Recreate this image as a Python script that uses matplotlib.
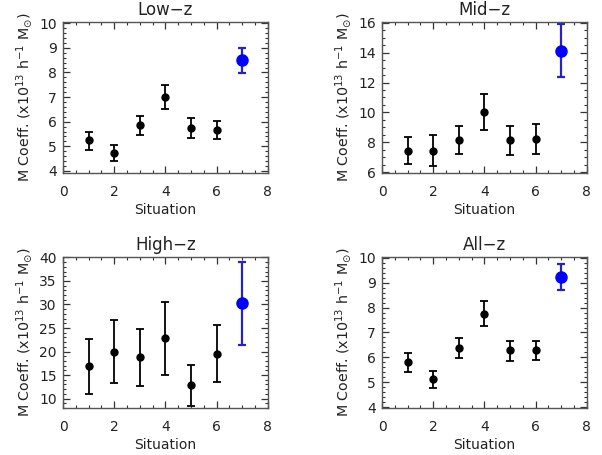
import matplotlib
matplotlib.use('Agg')
import matplotlib.pyplot as plt
from matplotlib.ticker import MultipleLocator

# situation index for each point (7 = the blue one)
situation = [1, 2, 3, 4, 5, 6, 7]

low_val = [5.24, 4.71, 5.86, 7.01, 5.74, 5.66, 8.49]
low_hi = [5.60, 5.04, 6.25, 7.51, 6.14, 6.04, 8.99]
low_lo = [4.84, 4.39, 5.46, 6.53, 5.33, 5.28, 7.96]

mid_val = [7.44, 7.44, 8.18, 10.0, 8.13, 8.22, 14.13]
mid_hi = [8.38, 8.51, 9.11, 11.24, 9.11, 9.20, 15.93]
mid_lo = [6.53, 6.42, 7.20, 8.80, 7.13, 7.24, 12.36]

high_val = [16.88, 20.0, 18.79, 22.84, 12.84, 19.57, 30.28]
high_hi = [22.7, 26.67, 24.89, 30.57, 17.23, 25.67, 39.0]
high_lo = [11.06, 13.33, 12.7, 15.04, 8.43, 13.48, 21.49]

all_val = [5.81, 5.12, 6.39, 7.75, 6.28, 6.29, 9.22]
all_hi = [6.17, 5.45, 6.79, 8.25, 6.66, 6.66, 9.75]
all_lo = [5.43, 4.79, 5.99, 7.28, 5.87, 5.89, 8.71]

titles = ['Low\u2212z', 'Mid\u2212z', 'High\u2212z', 'All\u2212z']
ylims = [(3.92, 10.05), (5.95, 16.05), (8.0, 40.1), (3.97, 10.03)]
ymajor = [1, 2, 5, 1]
yminor = [0.2, 0.5, 1, 0.2]

plt.rcParams['font.family'] = ['DejaVu Sans']
plt.rcParams['mathtext.fontset'] = 'dejavusans'
plt.rcParams['text.color'] = '#222222'
plt.rcParams['axes.labelcolor'] = '#222222'

fig = plt.figure(figsize=(6.02, 4.55), dpi=100)
boxes = [[0.1047, 0.620, 0.340, 0.3316],
         [0.6346, 0.620, 0.340, 0.3316],
         [0.1047, 0.1033, 0.340, 0.3319],
         [0.6346, 0.1033, 0.340, 0.3319]]

data = [(low_val, low_lo, low_hi), (mid_val, mid_lo, mid_hi),
        (high_val, high_lo, high_hi), (all_val, all_lo, all_hi)]

for i in range(4):
    ax = fig.add_axes(boxes[i])
    val, lo, hi = data[i]
    err_lo = [v - l for v, l in zip(val, lo)]
    err_hi = [h - v for v, h in zip(val, hi)]
    ax.errorbar(situation[:6], val[:6], yerr=[err_lo[:6], err_hi[:6]],
                fmt='o', color='black', ms=5, elinewidth=1.3, capsize=3, capthick=1.3)
    ax.errorbar(situation[6:], val[6:], yerr=[err_lo[6:], err_hi[6:]],
                fmt='o', color='#2424c4', mfc='blue', mec='blue', ms=8,
                elinewidth=1.6, capsize=3, capthick=1.6)
    ax.set_xlim(0, 8)
    ax.set_ylim(*ylims[i])
    ax.xaxis.set_major_locator(MultipleLocator(2))
    ax.xaxis.set_minor_locator(MultipleLocator(0.5))
    ax.yaxis.set_major_locator(MultipleLocator(ymajor[i]))
    ax.yaxis.set_minor_locator(MultipleLocator(yminor[i]))
    ax.tick_params(which='both', direction='in', top=True, right=True, labelsize=10,
                   color='#333333', labelcolor='#222222')
    ax.tick_params(which='major', length=5, width=0.9)
    ax.tick_params(which='minor', length=2.5, width=0.8)
    ax.tick_params(axis='x', which='major', pad=8.5)
    ax.tick_params(axis='y', which='major', pad=4.5)
    for s in ax.spines.values():
        s.set_color('#555555')
        s.set_linewidth(1.0)
    ax.set_title(titles[i], fontsize=12, pad=5)
    ax.set_xlabel('Situation', fontsize=10, labelpad=3)
    ax.set_ylabel(r'M Coeff. (x10$^{13}$ h$^{-1}$ M$_{\odot}$)', fontsize=10.3, labelpad=3)

fig.savefig('out.png', dpi=100)
